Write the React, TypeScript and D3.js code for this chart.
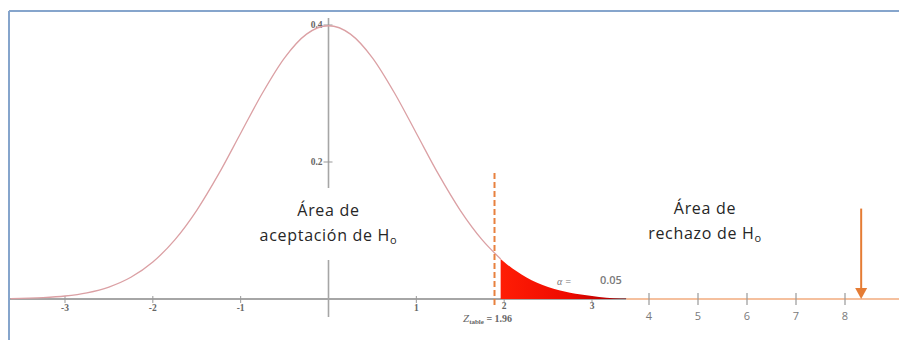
import React from "react";
import * as d3 from "d3";

// Standard normal curve values
const curveZ = [-3.62, -3.25, -3, -2.75, -2.5, -2.25, -2, -1.75, -1.5, -1.25, -1, -0.75, -0.5, -0.25, 0, 0.25, 0.5, 0.75, 1, 1.25, 1.5, 1.75, 1.96];
const curveDensity = [0.0006, 0.002, 0.0044, 0.0091, 0.0175, 0.0317, 0.054, 0.0863, 0.1295, 0.1826, 0.242, 0.3011, 0.3521, 0.3867, 0.3989, 0.3867, 0.3521, 0.3011, 0.242, 0.1826, 0.1295, 0.0863, 0.0584];
const tailZ = [1.96, 2, 2.25, 2.5, 2.75, 3, 3.25, 3.5, 3.6];
const tailDensity = [0.0584, 0.054, 0.0317, 0.0175, 0.0091, 0.0044, 0.002, 0.0009, 0.0006];

const leftTicks = [-3, -2, -1, 1];
const tailTicks = [2, 3];
const rightTicks = [4, 5, 6, 7, 8];
const yTicks = [0.2, 0.4];

const zTable = 1.96;
const dashedLineZ = 1.89;
const alpha = "0.05";
const zCalc = 8.33;
const arrowTop = 0.132;
const dashTop = 0.184;
const dashBottom = -0.009;

const W = 899;
const H = 340;

export default function App() {
  const x = d3.scaleLinear().domain([-3, 3, 4, 8]).range([65, 592, 649, 845]);
  const y = d3.scaleLinear().domain([0, 0.4]).range([299, 25]);

  const line = d3
    .line<number>()
    .x((_, i) => x(curveZ[i]))
    .y((d) => y(d))
    .curve(d3.curveMonotoneX);
  const area = d3
    .area<number>()
    .x((_, i) => x(tailZ[i]))
    .y0(y(0))
    .y1((d) => y(d))
    .curve(d3.curveMonotoneX);

  const tailEnd = x(tailZ[tailZ.length - 1]);
  const y0 = y(0);
  const ax = x(zCalc);
  const serif = "'Liberation Serif', 'DejaVu Serif', serif";
  const sans = "'Open Sans', 'Noto Sans', sans-serif";
  const labelStyle = { fontFamily: sans, fontSize: 16, fill: "#262626", letterSpacing: 0.7 };

  return (
    <svg width={W} height={H} style={{ position: "absolute", left: 0, top: 0, background: "#fff" }}>
      <defs>
        <linearGradient id="tailGrad" x1="0" x2="1" y1="0" y2="0">
          <stop offset="0%" stopColor="#ff1d05" />
          <stop offset="55%" stopColor="#ee0a00" />
          <stop offset="85%" stopColor="#b80000" />
          <stop offset="100%" stopColor="#7a0000" />
        </linearGradient>
      </defs>
      {/* frame */}
      <line x1={9} x2={W} y1={11} y2={11} stroke="#86a5cc" strokeWidth={2} />
      <line x1={9} x2={9} y1={11} y2={H} stroke="#86a5cc" strokeWidth={2} />

      {/* x axis gray portion */}
      <line x1={10} x2={tailEnd} y1={y0} y2={y0} stroke="#a6a6a6" strokeWidth={2} />
      {/* orange axis portion */}
      <line x1={tailEnd} x2={W} y1={y0} y2={y0} stroke="#f2ab7e" strokeWidth={1.6} />

      {/* vertical axis */}
      <line x1={x(0)} x2={x(0)} y1={18} y2={317} stroke="#a6a6a6" strokeWidth={1.6} />
      {yTicks.map((t) => (
        <g key={t}>
          <line x1={x(0) - 5} x2={x(0) + 4} y1={y(t)} y2={y(t)} stroke="#999" strokeWidth={1} />
          <text x={x(0) - 6} y={y(t) + 3} textAnchor="end" fontFamily={serif} fontSize={9.5} fontWeight="bold" fill="#666">
            {t.toFixed(1)}
          </text>
        </g>
      ))}

      {/* left ticks */}
      {leftTicks.map((t) => (
        <g key={t}>
          <line x1={x(t)} x2={x(t)} y1={y0 - 3} y2={y0 + 4} stroke="#999" strokeWidth={1} />
          <text x={x(t)} y={y0 + 12} textAnchor="middle" fontFamily={serif} fontSize={9.5} fontWeight="bold" fill="#666">
            {t}
          </text>
        </g>
      ))}
      {tailTicks.map((t) => (
        <g key={t}>
          <line x1={x(t)} x2={x(t)} y1={y0 - 3} y2={y0 + 3} stroke="#999" strokeWidth={1} />
          <text x={x(t)} y={y0 + 10} textAnchor="middle" fontFamily={serif} fontSize={9.5} fontWeight="bold" fill="#666">
            {t}
          </text>
        </g>
      ))}

      {/* right ticks */}
      {rightTicks.map((t) => (
        <g key={t}>
          <line x1={x(t)} x2={x(t)} y1={y0 - 6} y2={y0 + 6} stroke="#999" strokeWidth={1.2} />
          <text x={x(t)} y={y0 + 21} textAnchor="middle" fontFamily={sans} fontSize={11} fill="#7a7a7a">
            {t}
          </text>
        </g>
      ))}

      {/* curve */}
      <path d={line(curveDensity) || ""} fill="none" stroke="#dba0a4" strokeWidth={1.3} />
      {/* rejection tail */}
      <path d={area(tailDensity) || ""} fill="url(#tailGrad)" />

      {/* dashed critical line */}
      <line
        x1={x(dashedLineZ)}
        x2={x(dashedLineZ)}
        y1={y(dashTop)}
        y2={y(dashBottom)}
        stroke="#e8813f"
        strokeWidth={2}
        strokeDasharray="6,3"
      />

      {/* acceptance label */}
      <rect x={x(0) - 8} y={188} width={16} height={72} fill="#fff" />
      <text x={x(0)} y={216} textAnchor="middle" style={labelStyle}>
        Área de
      </text>
      <text x={x(0)} y={241} textAnchor="middle" style={labelStyle}>
        aceptación de H<tspan fontSize={11} dy={3}>o</tspan>
      </text>

      {/* rejection label */}
      <text x={705} y={214} textAnchor="middle" style={labelStyle}>
        Área de
      </text>
      <text x={705} y={239} textAnchor="middle" style={labelStyle}>
        rechazo de H<tspan fontSize={11} dy={3}>o</tspan>
      </text>

      {/* alpha */}
      <text x={557} y={285} fontFamily={serif} fontStyle="italic" fontSize={10} fill="#777">
        α =
      </text>
      <text x={600} y={284} fontFamily={sans} fontSize={11} fontWeight={600} fill="#7a7a7a">
        {alpha}
      </text>

      {/* Z table label */}
      <text x={463} y={322} fontFamily={serif} fontSize={10} fill="#666">
        <tspan fontStyle="italic" fontSize={11}>Z</tspan>
        <tspan fontSize={7} fontWeight="bold" dy={2}>table</tspan>
        <tspan fontWeight="bold" dy={-2}> = {zTable}</tspan>
      </text>

      {/* arrow for calculated Z */}
      <line x1={ax} x2={ax} y1={y(arrowTop)} y2={y0 - 8} stroke="#e57c34" strokeWidth={2} />
      <path d={`M${ax - 6},${y0 - 11} L${ax + 6},${y0 - 11} L${ax},${y0} Z`} fill="#e57c34" />
    </svg>
  );
}
